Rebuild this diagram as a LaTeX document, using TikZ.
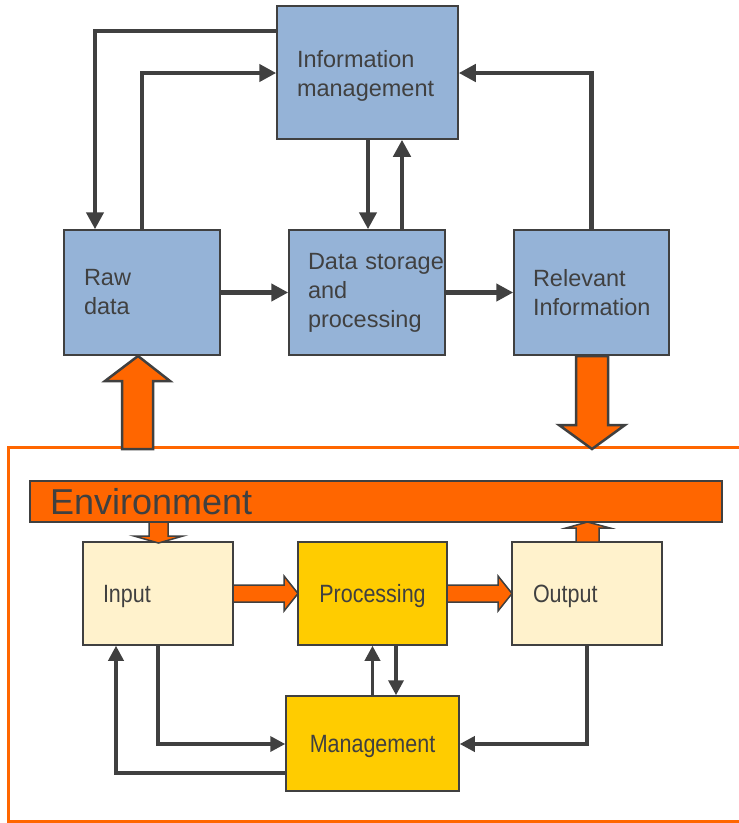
\documentclass[tikz,border=0pt]{standalone}
\usepackage{fontspec}
\setmainfont{Liberation Sans}
\newfontfamily\narrowsans[FakeStretch=0.86]{Liberation Sans}
\usetikzlibrary{arrows.meta,calc}

\definecolor{boxblue}{HTML}{95B3D7}
\definecolor{gold}{HTML}{FFCC00}
\definecolor{cream}{HTML}{FFF2CC}
\definecolor{envorange}{HTML}{FF6600}
\definecolor{ink}{HTML}{404040}

\tikzset{
  topbox/.style={draw=ink, line width=1.5pt, fill=boxblue, text=ink,
    inner xsep=20pt, inner ysep=0pt, align=left,
    font=\fontsize{23.5}{29}\selectfont},
  lowbox/.style={draw=ink, line width=1.5pt, text=ink,
    inner xsep=20pt, inner ysep=0pt, text depth=0pt,
    font=\narrowsans\fontsize{25}{30}\selectfont},
  envbar/.style={draw=ink, line width=1.5pt, fill=envorange, text=ink,
    inner xsep=20pt, inner ysep=0pt, align=left,
    font=\fontsize{36}{40}\selectfont},
  link/.style={draw=ink, line width=4.5pt, -{Triangle[length=17pt,width=17pt]}},
  linklow/.style={draw=ink, line width=3.5pt, -{Triangle[length=15pt,width=15pt]}},
  fat/.style={fill=envorange, draw=ink, line width=2.5pt, line join=miter},
  fatthin/.style={fill=envorange, draw=ink, line width=1.5pt, line join=miter},
}

\begin{document}
\begin{tikzpicture}[x=1pt, y=-1pt]
\useasboundingbox (0,0) rectangle (739,823);

% environment frame
\draw[envorange, line width=3pt] (745,447) -- (8,447) -- (8,821) -- (745,821);

% information system
\node[topbox, minimum width=181pt, minimum height=133pt, text width=141pt]
  (im) at (367.5,72.5)
  {\raisebox{-4pt}[\height][\depth]{\begin{tabular}{@{}l@{}}Information\\management\end{tabular}}};
\node[topbox, minimum width=156pt, minimum height=125pt, text width=116pt]
  (raw) at (142,292.5) {Raw\\data};
\node[topbox, minimum width=156pt, minimum height=125pt, text width=118pt, inner xsep=19pt]
  (ds) at (367,292.5) {\mbox{Data storage}\\and\\processing};
\node[topbox, minimum width=155pt, minimum height=125pt, text width=117pt, inner xsep=19pt]
  (rel) at (591.5,292.5) {Relevant\\Information};

% environment and its processes
\node[envbar, minimum width=692pt, minimum height=41pt, text width=652pt]
  (env) at (376,501.5) {Environment};
\node[lowbox, fill=cream, minimum width=150pt, minimum height=103pt, text width=110pt, align=left]
  (in) at (158,593.5) {Input};
\node[lowbox, fill=gold, minimum width=149pt, minimum height=103pt, align=center]
  (pr) at (372.5,593.5) {Processing};
\node[lowbox, fill=cream, minimum width=150pt, minimum height=103pt, text width=108pt, inner xsep=21pt, align=left]
  (out) at (587,593.5) {Output};
\node[lowbox, fill=gold, minimum width=173pt, minimum height=95pt, align=center]
  (mg) at (372.5,743.5) {Management};

% information flows
\draw[link] (im.west |- 0,31) -| ([xshift=-47pt]raw.north);
\draw[link] (raw.north) |- (im.west |- 0,73);
\draw[link] (im.south -| 368,0) -- (ds.north -| 368,0);
\draw[link] (ds.north -| 402,0) -- (im.south -| 402,0);
\draw[link] (rel.north) |- (im.east |- 0,73);
\draw[link] (raw.east) -- (ds.west);
\draw[link] (ds.east) -- (rel.west);

% management loops
\draw[linklow] (in.south) |- (mg.west |- 0,744);
\draw[linklow] (mg.west |- 0,773) -| (in.south -| 116,0);
\draw[linklow] (mg.north) -- (pr.south);
\draw[linklow] (pr.south -| 396,0) -- (mg.north -| 396,0);
\draw[linklow] (out.south) |- (mg.east |- 0,744);

% exchange with the environment
\draw[fat] (122,449) -- (122,381) -- (105,381) -- (138,356) -- (170,381)
  -- (153,381) -- (153,449) -- cycle;
\draw[fat] (576,356) -- (608,356) -- (608,425) -- (625,425) -- (592,449)
  -- (559,425) -- (576,425) -- cycle;
\draw[fatthin] (149,522) -- (168,522) -- (168,536) -- (183,536) -- (158.5,543)
  -- (134,536) -- (149,536) -- cycle;
\draw[fatthin] (576,542) -- (576,528) -- (566,528) -- (587.5,522) -- (610,528)
  -- (599,528) -- (599,542) -- cycle;
\draw[fatthin] (233,585) -- (284,585) -- (284,576) -- (298,593.5) -- (284,611)
  -- (284,602) -- (233,602) -- cycle;
\draw[fatthin] (447,585) -- (498,585) -- (498,576) -- (512,593.5) -- (498,611)
  -- (498,602) -- (447,602) -- cycle;
\end{tikzpicture}
\end{document}
